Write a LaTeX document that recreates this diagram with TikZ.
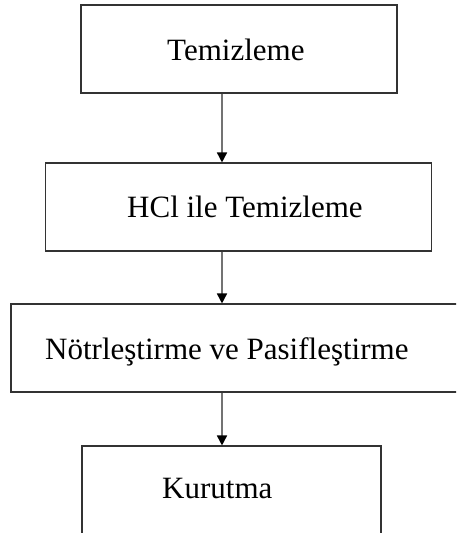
\documentclass[tikz,border=0pt]{standalone}
\usepackage{fontspec}
\setmainfont{Liberation Serif}
\usetikzlibrary{arrows.meta}
\begin{document}
\begin{tikzpicture}[x=1pt,y=-1pt,
  box/.style={draw=black!80,line width=1.1pt,rectangle,inner sep=0pt},
  lbl/.style={font=\fontsize{31}{36}\selectfont,inner sep=0pt,anchor=base west},
  arr/.style={draw=black!55,line width=1.6pt,-{Triangle[width=10pt,length=10pt,color=black]}}]
\useasboundingbox (0,0) rectangle (456,533);
\fill[white] (0,0) rectangle (456,533);
\clip (0,0) rectangle (456,533);
\node[box,minimum width=316pt,minimum height=88pt] (b1) at (239,49) {};
\node[box,minimum width=386pt,minimum height=88pt] (b2) at (238.8,207) {};
\node[box,minimum width=459pt,minimum height=88pt] (b3) at (240.5,348) {};
\node[box,minimum width=299pt,minimum height=88pt] (b4) at (231.5,490) {};
\node[lbl] (t1) at (167,60) {Temizleme};
\node[lbl] (t2) at (127,217) {HCl ile Temizleme};
\node[lbl] (t3) at (45,359) {Nötrleştirme ve Pasifleştirme};
\node[lbl] (t4) at (162,498) {Kurutma};
\coordinate (ax) at (222,0);
\draw[arr] (ax |- b1.south) -- (ax |- b2.north);
\draw[arr] (ax |- b2.south) -- (ax |- b3.north);
\draw[arr] (ax |- b3.south) -- (ax |- b4.north);
\end{tikzpicture}
\end{document}
